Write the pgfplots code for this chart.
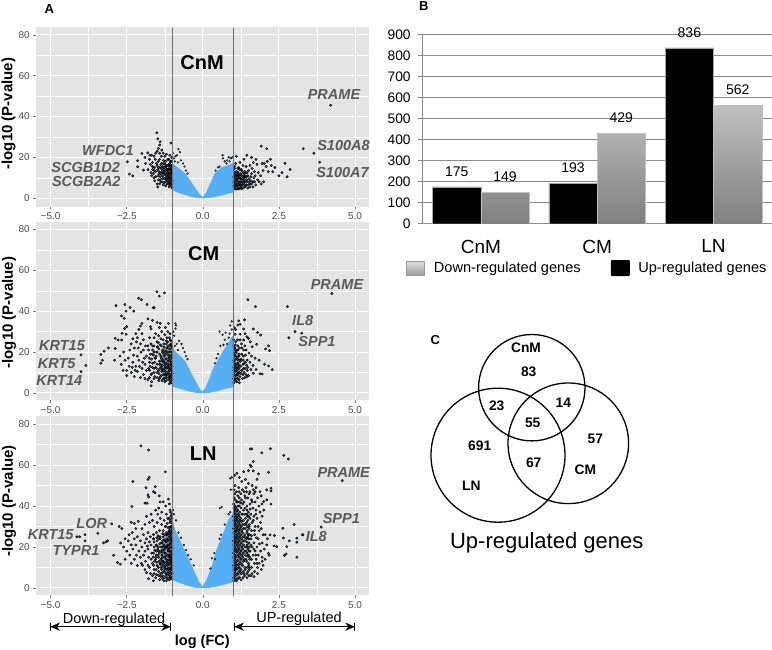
\documentclass[border=0pt]{standalone}
\usepackage{fontspec}
\setmainfont{Liberation Sans}
\usepackage{pgfplots}
\pgfplotsset{compat=1.18}

\definecolor{panel}{HTML}{E4E4E4}
\definecolor{lblue}{HTML}{56AEF5}
\definecolor{navy}{HTML}{22364E}
\definecolor{genecol}{HTML}{5A5A5A}
\definecolor{tickcol}{HTML}{4D4D4D}
\definecolor{barline}{HTML}{8A8A8A}
\definecolor{cutline}{HTML}{707070}

\pgfplotsset{
  volcano/.style={
    scale only axis, width=333.6pt, anchor=south west,
    xmin=-5.49, xmax=5.47,
    xtick={-5,-2.5,0,2.5,5},
    xticklabels={−5.0,−2.5,0.0,2.5,5.0},
    ytick={0,20,40,60,80},
    minor tick num=1, minor tick length=0pt,
    axis line style={draw=none},
    axis background/.style={fill=panel},
    grid=both,
    major grid style={white,line width=0.9pt},
    minor grid style={white,line width=0.35pt},
    tick align=outside, tick pos=lower, major tick length=2.5pt,
    tick style={tickcol!70,line width=0.5pt},
    tick label style={font=\fontsize{10}{11}\selectfont,text=tickcol},
    /pgf/number format/assume math mode=true,
  },
  dk/.style={only marks,mark=*,mark size=1.2pt,draw=none,
    mark options={draw=none,fill=navy,fill opacity=0.8}},
  lb/.style={only marks,mark=*,mark size=0.9pt,draw=none,
    mark options={draw=none,fill=lblue,fill opacity=0.85}},
  cloud/.style={fill=lblue,draw=lblue,line width=0.6pt,mark=none},
  dense/.style={fill=navy,fill opacity=0.45,draw=none,mark=none},
}

\begin{document}
\begin{tikzpicture}
\path[use as bounding box] (0pt,0pt) rectangle (772pt,-650pt);

% A: CnM
\begin{axis}[volcano, at={(35.7pt,-206.7pt)}, height=179.4pt, ymin=-4.2, ymax=83.7]
\addplot[cloud] coordinates {(-1,3.9)(-0.7,2.3)(-0.36,0.7)(-0.15,0.2)(0,0)(0.15,0.2)(0.4,0.7)(0.7,1.8)(1,3)(1,17)(0.8,15.8)(0.62,15)(0.4,12)(0.13,3)(0,0.4)(-0.14,2.3)(-0.36,7.2)(-0.58,12)(-0.8,14.5)(-1,17)};
\addplot[lb] coordinates {(-0.98,22)(-0.9,20.5)(-0.8,24)(-0.75,22.5)(-0.72,18.5)(-0.65,17)(-0.85,21)(-0.6,15.5)(-0.92,18)(-0.82,17.5)(-0.95,19.5)(-0.55,13.5)(-0.5,12)(0.65,21)(0.66,19.5)(0.85,20)(0.92,19.5)(0.8,18.5)(0.5,15)(0.72,18)(0.42,13.5)(0.97,20)(0.88,18)(0.78,17)(0.55,15.5)};
\addplot[dense] coordinates {(-1,6)(-1.2,8)(-1.25,13)(-1,16)};
\addplot[dense] coordinates {(1,5)(1.4,6)(1.4,10)(1.1,13)(1,14)};
\addplot[dk] coordinates {(-1.51,32)(-1.48,29)(-1.40,27.6)(-1.42,26)(-1.46,24.3)(-2.0,21.9)(-1.81,22.2)(-1.68,21)(-2.48,17.8)(-2.14,18.3)(-2.14,15.4)(-2.41,11.8)(-2.30,10.9)(-1.95,13.7)(-1.80,14)(-1.75,19)(-1.65,17.5)(-1.6,20.5)(-1.55,22)(-1.5,23)(-1.42,22)(-1.35,23.5)(-1.3,22)(-1.25,20.5)(-1.2,21.5)(-1.12,19)(-1.05,27)(-1.08,21)(-1.7,12.5)(-1.66,15.5)(-1.6,10)(-1.55,13)(-1.52,17)(-1.5,7)(-1.48,5.5)(-1.45,15)(-1.42,19)(-1.4,10.5)(-1.38,8)(-1.35,17)(-1.33,12.5)(-1.3,6.5)(-1.28,15)(-1.25,9.5)(-1.22,18)(-1.2,12)(-1.18,7)(-1.16,14)(-1.14,10)(-1.12,16)(-1.1,5.5)(-1.1,12)(-1.08,8)(-1.06,18)(-1.05,14)(-1.04,10)(-1.03,6)(-1.02,12.5)(-1.02,16)(-1.01,8.5)(-1.01,5)(-1.15,19)(-1.88,17)(-1.72,16.5)(-1.58,15)(-1.62,12)(-1.47,11)(-1.44,13)(-1.37,14.5)(-1.32,9.5)(-1.27,12)(-1.24,16.5)(-1.19,9)(-1.17,11.5)(-1.13,8)(-1.11,14.5)(-1.09,10)(-1.07,6.5)(-1.06,11.5)(-1.03,15)(-1.02,20)(-1.2,15.5)(-1.29,18.5)(-1.36,20.5)(-1.46,18)(-1.56,19)(-1.74,21)(-1.9,20)(-1.68,11)(-1.58,8.5)(-1.42,7)
(-1.01,7)(-1.03,9)(-1.02,11)(-1.04,13)(-1.02,14.5)(-1.05,16)(-1.03,18)(-1.07,7.5)(-1.08,10)(-1.06,12.5)(-1.09,14)(-1.07,15.5)(-1.09,17)(-1.12,6.8)(-1.13,9)(-1.11,11)(-1.14,12.5)(-1.12,14)(-1.15,16)(-1.18,8.5)(-1.17,10.5)(-1.16,12.5)(-1.19,14)(-1.18,16)(-1.22,6)(-1.23,8)(-1.21,10)(-1.24,11.5)(-1.22,13.5)(-1.25,15)(-1.28,7.5)(-1.29,10)(-1.27,13)(-1.3,14)(-1.28,17)(-1.34,8)(-1.33,11)(-1.35,13)(-1.32,15.5)(-1.4,9)(-1.38,12)(-1.41,15)(-1.38,16.5)(-1.46,9)(-1.44,12)(-1.48,14)(-1.5,16)(-1.55,10.5)(-1.6,13.5)(-1.65,14)};
\addplot[dk] coordinates {(4.2,45.5)(3.3,24.2)(3.65,22)(3.84,17.6)(1.92,25.5)(2.1,24.2)(1.1,20.5)(1.45,21)(1.6,20)(1.35,19)(1.22,17.5)(1.75,19)(2.22,19)(2.12,18)(2.7,17)(2.87,14)(2.6,12.5)(2.5,11)(2.77,10.5)(2.37,15)(2.3,13)(2.02,17)(2.08,15.5)(1.98,13.5)(1.78,16.5)(1.66,17.5)(1.55,16)(1.42,15.5)(1.32,16)(1.18,15)(1.08,17)(1.04,14.5)(1.5,13.5)(1.38,13)(1.28,13.5)(1.16,12.5)(1.06,12)(1.03,10)(1.02,7.5)(1.03,5)(1.7,13)(1.82,12.5)(1.6,12)(1.68,10)(1.85,8)(1.92,7)(1.74,6.5)(1.65,5.5)(1.55,7)(1.48,11)(1.44,9)(1.4,6)(1.34,11)(1.3,8)(1.26,5.5)(1.22,10)(1.2,7)(1.14,9.5)(1.12,6)(1.1,11)(1.08,8)(1.06,5.5)(1.04,11.5)(1.05,7)(1.18,4.5)(1.25,12)(1.36,10)(1.45,12.5)(1.52,9.5)(1.58,8.5)(1.62,14.5)(1.72,11)(1.8,9)(2.0,8)(1.9,11)(2.15,13)(1.95,17)(2.25,16)
(1.02,6)(1.03,8.5)(1.02,10.5)(1.04,12.5)(1.05,15.5)(1.07,4.5)(1.08,6.5)(1.09,9.5)(1.07,11)(1.1,13)(1.12,4.5)(1.13,7)(1.12,8.5)(1.14,10.5)(1.13,12.5)(1.15,14.5)(1.17,5)(1.18,6.5)(1.19,8)(1.18,10)(1.17,11.5)(1.2,14)(1.23,5)(1.24,6.5)(1.25,8)(1.24,9.5)(1.22,11.5)(1.26,14)(1.28,4.5)(1.29,6.5)(1.3,9.5)(1.28,11)(1.33,5)(1.34,7)(1.35,8.5)(1.33,12.5)(1.38,5.5)(1.39,8)(1.4,10.5)(1.38,12)(1.43,6.5)(1.45,8)(1.44,10.5)(1.48,5)(1.5,6.5)(1.52,8)(1.55,5.5)(1.58,10.5)(1.6,7)(1.65,8)(1.7,8)};
\end{axis}

% CM
\begin{axis}[volcano, at={(35.7pt,-400.3pt)}, height=178.3pt, ymin=-3.6, ymax=83.6]
\addplot[cloud] coordinates {(-1,3.2)(-0.75,2.2)(-0.45,0.9)(-0.2,0.2)(0,0)(0.2,0.2)(0.46,1)(0.75,2.2)(1,3)(1,28)(0.85,24.5)(0.68,20.5)(0.35,12)(0.12,3)(0,0.5)(-0.09,1.5)(-0.3,7.2)(-0.58,15.3)(-0.75,18)(-0.9,20)(-1,22)};
\addplot[lb] coordinates {(-0.97,30)(-0.9,31.5)(-0.88,33)(-0.9,34)(-0.94,28)(-0.86,24)(-0.78,25.5)(-0.7,24)(-0.65,22)(-0.6,20)(-0.55,18)(-0.5,16.5)(-0.82,21)(-0.92,23)(0.9,33)(0.95,31)(0.55,30)(0.65,28.5)(0.75,29.5)(0.85,27)(0.95,35)(0.58,23)(0.68,23.5)(0.72,26)(0.45,17)(0.5,19)(0.4,14.5)(0.8,24)(0.88,29)};
\addplot[dense] coordinates {(-1,6)(-1.3,8)(-1.45,14)(-1.3,22)(-1,24)};
\addplot[dense] coordinates {(1,6)(1.2,7)(1.25,14)(1.1,22)(1,25)};
\addplot[dk] coordinates {(-1.51,49.5)(-1.26,48.9)(-1.43,47.4)(-2.11,46.3)(-2.02,45.6)(-2.85,42.7)(-2.56,43.3)(-2.39,41.8)(-2.52,40)(-2.27,40)(-1.83,43.3)(-1.63,41.7)(-1.6,41.7)(-2.67,37.7)(-2.58,36.5)(-1.8,36.2)(-1.65,35.5)(-1.5,34.5)(-1.4,34)(-2.0,34)(-2.05,32.7)(-2.5,32.4)(-2.57,31.5)(-1.72,32.4)(-1.7,31.3)(-1.43,32)(-1.23,32)(-1.13,34)(-2.65,29.2)(-2.52,28.7)(-2.88,26.7)(-2.78,25.9)(-2.67,25.9)(-3.1,22)(-2.88,21.7)(-3.24,20.4)(-3.35,18.8)(-3.3,16)(-3.35,14.5)(-2.9,16)(-2.68,14)(-2.62,11)(-2.5,8.5)(-1.7,3.5)(-2.5,11)(-2.45,17)(-2.55,16)(-2.4,21)(-2.35,24)(-2.3,26.5)(-2.2,29)(-2.15,27)(-2.1,31)(-2.0,29)(-1.95,26)(-2.25,22)(-2.15,18)(-2.05,24)(-1.95,21)(-2.3,15)(-2.2,13)(-2.1,16)(-2.0,12)(-2.35,10)(-2.25,8)(-2.15,10.5)(-2.05,7.5)(-1.95,9)(-1.9,14)(-1.85,18)(-1.8,23)(-1.75,27)(-1.7,24)(-1.65,21)(-1.6,27)(-1.55,29)(-1.5,25)(-1.45,28)(-1.4,23.5)(-1.35,30)(-1.3,26)(-1.25,28.5)(-1.2,24)(-1.15,30)(-1.1,27)(-1.05,25.5)(-1.85,11)(-1.8,6.5)(-1.75,15)(-1.7,9)(-1.65,12.5)(-1.6,7)(-1.55,17)(-1.5,10)(-1.5,20)(-1.45,6)(-1.42,14)(-1.38,18)(-1.35,10.5)(-1.32,21)(-1.3,7)(-1.28,15)(-1.25,12)(-1.22,19)(-1.2,9)(-1.18,22)(-1.15,14)(-1.12,6.5)(-1.12,17)(-1.1,11)(-1.08,20)(-1.06,8)(-1.05,14)(-1.04,23)(-1.03,5)(-1.02,17)(-1.02,10.5)(-1.58,15)(-1.62,18.5)(-1.68,5.5)(-1.72,19)(-1.78,12)(-1.88,23)(-1.92,17)(-1.98,15)(-2.03,20)(-2.08,13)(-2.12,22)(-2.18,25)(-2.22,11)(-2.28,18.5)(-2.32,12.5)(-2.42,13)(-2.6,20)(-2.72,18)(-1.48,22.5)(-1.38,26.5)(-1.28,24)(-1.18,27)(-1.08,29)(-1.55,12.5)(-1.45,11)(-1.34,13.5)(-1.24,9)(-1.14,10)(-1.4,8)(-1.6,10)(-1.75,7.5)(-1.9,7)(-1.25,5.5)(-1.1,4.5)
(-1.01,6.5)(-1.03,8)(-1.01,9.5)(-1.03,11.5)(-1.01,13)(-1.04,15)(-1.02,18.5)(-1.03,20)(-1.01,22)(-1.04,24)(-1.07,5.5)(-1.09,7)(-1.08,9)(-1.07,12)(-1.09,13.5)(-1.08,16)(-1.07,18)(-1.09,21.5)(-1.08,23.5)(-1.07,26)(-1.13,7.5)(-1.15,9)(-1.13,12)(-1.16,13)(-1.14,15.5)(-1.13,18.5)(-1.16,20)(-1.14,23)(-1.15,25)(-1.2,6)(-1.21,7.5)(-1.22,10.5)(-1.2,12.5)(-1.22,14.5)(-1.21,16.5)(-1.23,20.5)(-1.2,25.5)(-1.27,7)(-1.28,9)(-1.29,11)(-1.26,13.5)(-1.3,16)(-1.27,18)(-1.29,19.5)(-1.27,22.5)(-1.34,6)(-1.36,8.5)(-1.33,11.5)(-1.37,12.5)(-1.34,15.5)(-1.36,17)(-1.33,20)(-1.36,23)(-1.42,7)(-1.44,9.5)(-1.41,12)(-1.43,15.5)(-1.42,19)(-1.44,21.5)(-1.46,24.5)(-1.5,7.5)(-1.52,12)(-1.5,14)(-1.53,18)(-1.52,20)(-1.5,22.5)(-1.58,8)(-1.6,12)(-1.57,17)(-1.6,20)(-1.6,23)(-1.67,9.5)(-1.65,14.5)(-1.68,16.5)(-1.66,19)(-1.65,23)(-1.75,11)(-1.73,13)(-1.76,17)(-1.78,21)};
\addplot[dk] coordinates {(4.24,48.6)(2.78,42.2)(3.03,30)(3.25,29.2)(2.83,27)(-4.0,18.6)(-3.84,13.4)(-4,10.4)(1.48,45.6)(1.73,42.2)(1.18,35.3)(1.37,35.7)(1.15,33.2)(1.23,33.6)(1.04,31.9)(1.08,31)(1.66,31.3)(1.8,29.6)(1.9,28.3)(1.34,31.3)(1.39,29)(1.23,28.7)(1.06,28.7)(1.45,27.5)(1.5,26.7)(1.23,25.9)(1.34,25.9)(1.56,25)(1.77,23.8)(1.62,22.6)(2.16,23)(2.06,21.5)(2.19,20.7)(2.03,14)(2.16,13.2)(2.28,11.4)(1.88,9.4)(1.66,9.6)(1.95,9.3)(1.08,25)(1.15,23)(1.05,22)(1.28,22)(1.42,21)(1.52,19.5)(1.6,18)(1.72,17)(1.1,20)(1.2,19)(1.33,18)(1.46,16)(1.55,15)(1.65,13.5)(1.75,11.5)(1.04,18)(1.14,16.5)(1.24,15.5)(1.36,14.5)(1.48,12.5)(1.58,11.5)(1.42,9)(1.5,8.5)(1.03,15)(1.1,13.5)(1.18,12)(1.28,11)(1.36,10)(1.06,10.5)(1.14,9)(1.22,8)(1.3,7)(1.38,7.5)(1.05,7)(1.12,5.5)(1.2,5)(1.02,5)(1.02,12.5)(1.85,16)(1.4,18.5)(1.25,13)(1.12,11)(1.32,14)(1.46,11)
(1.01,7)(1.03,9)(1.02,11)(1.04,13)(1.02,16)(1.03,19.5)(1.02,23)(1.01,26)(1.07,6)(1.08,8.5)(1.06,12)(1.07,14)(1.08,16.5)(1.06,18.5)(1.08,21)(1.07,23.5)(1.13,7)(1.14,9.5)(1.12,12.5)(1.15,14.5)(1.13,17.5)(1.15,21)(1.14,26)(1.19,6.5)(1.2,10)(1.18,13.5)(1.21,16)(1.19,18)(1.2,22)(1.25,9.5)(1.27,11)(1.26,16.5)(1.28,19)(1.27,24)(1.32,9)(1.34,12)(1.33,16)(1.34,21)(1.39,12)(1.4,15)(1.38,23)(1.45,8)(1.44,13.5)};
\end{axis}

% LN
\begin{axis}[volcano, at={(35.7pt,-595.3pt)}, height=179.3pt, ymin=-3.6, ymax=84]
\addplot[cloud] coordinates {(-1,3.9)(-0.55,1.5)(-0.25,0.3)(0,0)(0.2,0.2)(0.5,1)(0.75,2)(1,3)(1,36.5)(0.84,33)(0.68,26.7)(0.46,18.6)(0.3,10.4)(0.13,3.9)(0,0.5)(-0.14,3)(-0.31,8.8)(-0.53,16)(-0.74,22.6)(-0.91,28)(-1,33)};
\addplot[lb] coordinates {(-0.98,38)(-0.95,36)(-0.88,33)(-0.8,27)(-0.72,24.5)(-0.62,21)(-0.55,18.5)(-0.48,16)(-0.3,11)(-0.4,14)(0.95,54)(0.92,48)(0.9,53.5)(0.56,39)(0.62,39.5)(0.85,36)(0.9,37)(0.38,17)(0.4,14)(0.3,14.5)(0.55,24)(0.6,26)(0.25,9.5)(0.72,31)};
\addplot[dense] coordinates {(-1,5)(-1.2,6)(-1.4,12)(-1.35,22)(-1.15,28)(-1,32)};
\addplot[dense] coordinates {(1,4)(1.25,5)(1.35,15)(1.3,32)(1.12,40)(1,42)};
\addplot[dk] coordinates {(-2.03,69.4)(-1.78,67.4)(-1.23,56.7)(-2.3,52)(-1.76,54)(-1.8,53)(-1.56,49.5)(-1.87,49)(-1.62,47)(-1.57,46.5)(-1.8,45.5)(-1.78,44.4)(-1.43,45)(-1.13,43.4)(-1.4,42)(-1.9,41.4)(-1.83,41.4)(-2.33,39.8)(-4.14,25)(-4.05,25)(-3.87,26)(-3.87,23)(-3.45,26.7)(-2.99,31.3)(-2.75,30)(-2.66,29)(-3.26,22)(-3.18,22.5)(-3.13,23)(-2.93,16)(-2.8,12.4)(-2.71,11.6)(-1.3,42)(-1.22,40)(-1.1,41)(-1.45,39)(-1.55,38)(-1.7,36)(-1.85,35)(-1.65,33)(-1.48,36)(-1.35,37)(-1.2,36)(-1.08,38)(-1.4,34)(-1.27,33)(-1.15,34)(-1.05,35)(-2.35,32)(-2.25,31.5)(-2.12,32.5)(-2.2,29)(-2.0,29)(-1.9,31)(-1.8,27)(-1.75,32)(-1.6,30)(-1.5,32)(-1.35,31)(-1.22,30)(-1.08,32)(-2.55,24)(-2.45,23)(-2.7,22)(-2.6,20)(-2.35,21)(-2.25,24)(-2.15,25)(-2.05,23)(-1.95,26)(-1.85,24)(-1.72,25)(-1.62,26)(-1.52,27)(-1.42,28)(-1.3,28)(-1.2,27)(-1.1,28)(-2.5,18)(-2.4,16)(-2.3,19)(-2.2,21)(-2.1,18)(-2,20)(-1.9,22)(-1.8,19)(-1.7,21)(-1.6,22.5)(-1.5,23)(-1.4,24)(-1.3,25)(-1.18,24)(-2.55,14)(-2.35,12)(-2.25,14)(-2.15,11)(-2.05,15)(-1.95,16)(-1.88,13)(-1.78,15)(-1.68,17)(-1.58,18.5)(-1.48,19)(-1.38,20)(-1.28,21)(-1.15,21)(-1.9,9)(-1.8,11)(-1.72,7)(-1.65,12)(-1.6,9)(-1.55,14)(-1.45,15)(-1.35,16)(-1.25,17)(-1.1,18)(-1.78,4.5)(-1.65,6)(-1.55,5)(-1.5,11)(-1.4,12)(-1.3,13)(-1.2,14)(-1.1,15)(-1.45,8)(-1.35,9)(-1.25,10)(-1.15,11)(-1.05,12)(-1.42,4)(-1.32,6)(-1.22,7)(-1.12,8)(-1.05,9)(-1.62,3.5)(-1.28,3.5)(-1.18,4.5)(-1.08,5)(-1.02,20)(-1.05,24)(-1.02,27)(-1.02,30)(-1.04,15)(-1.9,18)(-2.02,12)(-2.18,16)(-2.42,26)(-2.32,27)(-1.98,11)(-1.82,20.5)(-1.7,14)(-1.33,18.5)(-1.23,19.5)(-1.13,19)(-1.43,17)(-1.53,16)(-1.63,15)(-1.75,10)(-1.85,7.5)(-1.52,20.5)(-1.42,21.5)(-1.32,23)(-1.22,22.5)(-1.12,23.5)(-1.62,24)(-1.75,22.5)
(-1.02,4.5)(-1.01,7)(-1.03,9)(-1.01,11)(-1.02,13)(-1.03,14.5)(-1.01,16.5)(-1.03,18)(-1.01,19.5)(-1.03,21.5)(-1.01,23)(-1.02,25)(-1.03,26.5)(-1.01,28.5)(-1.03,32)(-1.01,34)(-1.02,36)(-1.06,5.5)(-1.07,7.5)(-1.05,10)(-1.07,12.5)(-1.06,14)(-1.05,16)(-1.07,17.5)(-1.06,20)(-1.07,22)(-1.05,23.5)(-1.06,26)(-1.07,27.5)(-1.05,30)(-1.07,33)(-1.06,37)(-1.1,4)(-1.11,6.5)(-1.09,9.5)(-1.11,11.5)(-1.1,13.5)(-1.12,16)(-1.09,19.5)(-1.11,21)(-1.1,25)(-1.12,27)(-1.09,29.5)(-1.11,34)(-1.15,5)(-1.16,7)(-1.14,9.5)(-1.17,12.5)(-1.15,13.5)(-1.16,16)(-1.14,18)(-1.17,20)(-1.15,23)(-1.16,26)(-1.14,29.5)(-1.17,31.5)(-1.2,3.5)(-1.21,6)(-1.19,9)(-1.22,11)(-1.2,12.5)(-1.21,15.5)(-1.23,17)(-1.19,20.5)(-1.22,23)(-1.2,26)(-1.23,30)(-1.26,5)(-1.27,8)(-1.25,9.5)(-1.28,12)(-1.26,15)(-1.27,18.5)(-1.25,20)(-1.28,23.5)(-1.26,26)(-1.32,4.5)(-1.33,7.5)(-1.31,11)(-1.34,13)(-1.32,15)(-1.33,17.5)(-1.31,20)(-1.34,22)(-1.32,26.5)(-1.38,5.5)(-1.39,7)(-1.37,10)(-1.4,11.5)(-1.38,14)(-1.39,18)(-1.37,22)(-1.4,25)(-1.45,6)(-1.46,10)(-1.44,13)(-1.47,16)(-1.45,18)(-1.46,20)(-1.44,24)(-1.47,25.5)(-1.52,6.5)(-1.53,9)(-1.51,12.5)(-1.54,15)(-1.52,18)(-1.53,21)(-1.51,24.5)(-1.6,7)(-1.61,11)(-1.59,13)(-1.62,17)(-1.6,20)(-1.61,24)};
\addplot[dk] coordinates {(4.58,52.4)(3.89,29.7)(3.29,25.9)(3.09,24.3)(3.0,31)(1.56,67.9)(1.61,67.9)(1.94,66)(2.22,68)(2.66,64.8)(2.81,63)(1.66,61.7)(1.56,60)(1.59,59.3)(2.16,56.5)(1.12,56)(1.34,56.8)(1.5,57.3)(1.66,57.2)(1.83,55.7)(2.24,48.7)(2.24,47.4)(2.1,47.9)(2.24,41)(2.1,43)(2,42.2)(1.94,41)(2.63,29.2)(3.27,26)(3.09,22.3)(2.84,23)(2.65,24.4)(2.76,20.2)(2.43,20.2)(2.68,15.8)(2.74,16.6)(3.09,15)(2.35,25.6)(2.21,25.9)(2.05,26)(2.34,20.5)(2.16,16.9)(2.18,16)(1.05,55)(1.2,54)(1.28,52)(1.4,53)(1.5,51)(1.62,50)(1.75,49)(1.88,47)(1.06,50)(1.18,49)(1.3,48)(1.42,49)(1.55,47)(1.68,46)(1.8,44)(1.92,45)(1.05,46)(1.15,45)(1.25,46)(1.38,45)(1.48,44)(1.6,43)(1.72,42)(1.84,40)(2.0,38)(1.95,35)(1.88,37)(1.75,38)(1.65,39)(1.55,41)(1.45,40)(1.35,42)(1.25,41.5)(1.58,36)(1.68,35)(1.78,34)(1.9,32)(1.5,37)(1.62,32)(1.72,30)(1.85,28)(1.98,26)(1.55,34)(1.45,36)(1.52,30)(1.6,28)(1.7,26)(1.82,24)(1.95,22)(2.1,21)(1.48,33)(1.42,31)(1.5,26)(1.58,24)(1.68,22)(1.78,20)(1.9,18)(2.02,19)(1.46,28)(1.44,24)(1.52,22)(1.62,20)(1.72,18)(1.82,16)(1.95,15)(2.05,14)(1.45,20)(1.55,18)(1.65,16)(1.75,14)(1.85,12)(1.98,11)(1.42,18)(1.5,16)(1.6,14)(1.7,12)(1.8,10)(1.92,9)(1.42,14)(1.5,12)(1.6,10)(1.7,8)(1.8,7)(1.38,10)(1.48,8)(1.58,6)(1.68,5.5)(1.35,7)(1.45,5)(1.66,48)(1.72,47)(1.78,53)(1.44,47)(1.2,44)(1.36,47)(1.52,46)(1.62,42)(1.4,44)(1.74,36)(1.56,38.5)(1.66,33)(1.82,30)(1.92,29)(1.76,24.5)(1.86,21.5)(1.7,28)(1.6,25.5)(2.12,24)(1.95,13)(1.78,12)(1.62,7)(1.52,10)(1.74,16)(1.58,21)(1.68,19)(1.48,19)(1.54,15)
(1.02,3.5)(1.01,5)(1.03,7)(1.02,9)(1.01,11)(1.03,13)(1.02,15)(1.01,17)(1.03,19)(1.02,21)(1.01,23)(1.03,25)(1.02,27)(1.01,29)(1.03,31)(1.02,33)(1.01,35)(1.03,37)(1.02,39)(1.01,41)(1.03,44)(1.02,48)(1.06,4.5)(1.07,6)(1.05,8)(1.06,10)(1.07,12)(1.05,14)(1.06,16)(1.07,18)(1.05,20)(1.06,22)(1.07,24)(1.05,26)(1.06,28)(1.07,30)(1.05,32)(1.06,34)(1.07,36)(1.05,38)(1.06,40)(1.07,43)(1.1,3.5)(1.11,6.5)(1.09,9)(1.1,11)(1.12,13)(1.09,15)(1.11,17.5)(1.1,19)(1.12,21)(1.09,23)(1.11,25)(1.1,27.5)(1.12,29)(1.09,31)(1.11,33)(1.1,35)(1.12,37.5)(1.09,39)(1.11,42)(1.1,47)(1.15,4.5)(1.16,7)(1.14,9.5)(1.17,11.5)(1.15,13.5)(1.16,16)(1.14,18)(1.17,20)(1.15,22)(1.16,24)(1.14,26)(1.17,28)(1.15,30)(1.16,32)(1.14,34)(1.17,36)(1.15,38)(1.16,40)(1.14,42)(1.2,5)(1.21,8)(1.19,10)(1.22,12.5)(1.2,15)(1.21,17)(1.19,19)(1.22,21)(1.2,23)(1.21,25)(1.19,27)(1.22,29)(1.2,31)(1.21,33)(1.19,35)(1.22,37)(1.2,40)(1.21,42)(1.19,47)(1.26,4)(1.27,7)(1.25,9)(1.28,11.5)(1.26,14)(1.27,16)(1.25,18)(1.28,20)(1.26,22)(1.27,24)(1.25,26)(1.28,28)(1.26,30)(1.27,32.5)(1.25,34)(1.28,36)(1.26,39)(1.27,43)(1.32,5)(1.33,8)(1.31,11)(1.34,13)(1.32,15)(1.33,17)(1.31,19)(1.34,21)(1.32,23)(1.33,25)(1.31,27)(1.34,29)(1.32,31)(1.33,33)(1.31,36)(1.34,38)(1.32,41)(1.38,6)(1.39,9)(1.37,14)(1.4,16)(1.38,18)(1.39,20)(1.37,23)(1.4,24.5)(1.38,26)(1.39,29)(1.37,31)(1.4,34)(1.38,36)(1.39,39)(1.45,7)(1.46,10)(1.44,13)(1.47,15.5)(1.45,17)(1.46,21)(1.44,22.5)(1.47,25)(1.45,27)(1.46,30)(1.44,32)(1.47,35)(1.45,38)(1.52,6)(1.53,9)(1.51,11)(1.54,14)(1.52,18)(1.53,20)(1.51,24)(1.54,26)(1.52,29)(1.53,31)(1.51,35)};
\end{axis}

% B
\begin{axis}[
  scale only axis, at={(422.7pt,-223.7pt)}, anchor=south west,
  width=349pt, height=189.4pt,
  xmin=-0.5, xmax=2.5, ymin=0, ymax=900,
  ybar=0pt, bar width=48.3pt,
  axis x line*=bottom, axis y line*=left,
  axis line style={barline,line width=0.9pt},
  xtick={0,1,2}, xticklabels={CnM,CM,LN},
  x tick style={draw=none},
  x tick label style={font=\fontsize{19}{20}\selectfont,yshift=-8pt},
  extra x ticks={-0.5,0.5,1.5,2.5}, extra x tick labels={},
  extra x tick style={tick style={draw=barline,line width=0.9pt},tickwidth=5pt,grid=none},
  ytick={0,100,...,900},
  ymajorgrids,
  major grid style={barline,line width=0.9pt},
  y tick style={barline,line width=0.9pt},
  tick align=outside, major tick length=4.5pt,
  y tick label style={font=\fontsize{13.8}{14}\selectfont,xshift=-4pt},
  /pgf/number format/assume math mode=true,
  nodes near coords,
  every node near coord/.append style={font=\fontsize{14}{15}\selectfont,yshift=7pt},
  legend columns=2, reverse legend,
  legend style={at={(axis description cs:-0.047,-0.234)},anchor=west,draw=none,fill=none,
    inner sep=0pt,font=\fontsize{14.6}{15}\selectfont,
    /tikz/column 2/.style={column sep=28pt}},
]
\addplot[draw=gray!70,fill=black,
  legend image code/.code={\fill[black,draw=none,rounded corners=1pt] (0pt,-8pt) rectangle (19pt,8pt);\path[draw=none,fill=none] (0pt,0pt)--(25.5pt,0pt);}]
  coordinates {(0,175)(1,193)(2,836)};
\addlegendentry{Up-regulated genes}
\addplot[draw=gray!50,top color=black!25,bottom color=black!50,
  legend image code/.code={\draw[gray!80,line width=0.8pt,top color=black!13,bottom color=black!38] (0pt,-7pt) rectangle (17pt,7pt);\path[draw=none,fill=none,shade=none] (0pt,0pt)--(25pt,0pt);}]
  coordinates {(0,149)(1,429)(2,562)};
\addlegendentry{Down-regulated genes}
\end{axis}

\begin{scope}[x=1pt,y=-1pt]
% cut-off lines through all three panels
\draw[cutline,line width=1.3pt] (172.3,28)--(172.3,596);
\draw[cutline,line width=1.3pt] (233.3,28)--(233.3,596);

\tikzset{gene/.style={font=\bfseries\itshape\fontsize{14.5}{15}\selectfont,text=genecol,inner sep=0pt},
  ttl/.style={font=\bfseries\fontsize{20}{21}\selectfont,inner sep=0pt},
  vn/.style={font=\bfseries\fontsize{13.8}{14}\selectfont,inner sep=0pt},
  tag/.style={font=\bfseries\fontsize{13}{14}\selectfont,inner sep=0pt},
  ylab/.style={font=\bfseries\fontsize{15}{16}\selectfont,rotate=90,inner sep=0pt}}

\node[tag] at (49.3,9.3) {A};
\node[tag] at (423.7,6.5) {B};
\node[tag] at (435.3,340) {C};

\node[ylab] at (8.5,113.5) {-log10 (P-value)};
\node[ylab] at (9,312.5) {-log10 (P-value)};
\node[ylab] at (9,501) {-log10 (P-value)};

\node[ttl] at (202,62.7) {CnM};
\node[ttl] at (203.7,254) {CM};
\node[ttl] at (203.3,453.3) {LN};

\node[gene] at (334,95) {PRAME};
\node[gene] at (343.5,146) {S100A8};
\node[gene] at (342.5,172.7) {S100A7};
\node[gene] at (108,151) {WFDC1};
\node[gene] at (85.7,168) {SCGB1D2};
\node[gene] at (86.3,182) {SCGB2A2};

\node[gene] at (337,284.3) {PRAME};
\node[gene] at (302.7,321) {IL8};
\node[gene] at (317,341.7) {SPP1};
\node[gene] at (62,346) {KRT15};
\node[gene] at (56.7,364) {KRT5};
\node[gene] at (59.3,380.7) {KRT14};

\node[gene] at (343.7,472.7) {PRAME};
\node[gene] at (341.3,518.7) {SPP1};
\node[gene] at (316.3,536.7) {IL8};
\node[gene] at (91.7,524) {LOR};
\node[gene] at (50.7,535) {KRT15};
\node[gene] at (76,551) {TYPR1};

% arrows under the LN panel
\draw[line width=1pt,|-|] (50,626.7)--(171.3,626.7);
\draw[line width=1pt,|-|] (234,626.7)--(355.3,626.7);
\fill (50.5,626.7)--(60,622.5)--(57,626.7)--(60,630.9)--cycle;
\fill (170.8,626.7)--(161.3,622.5)--(164.3,626.7)--(161.3,630.9)--cycle;
\fill (234.5,626.7)--(244,622.5)--(241,626.7)--(244,630.9)--cycle;
\fill (354.8,626.7)--(345.3,622.5)--(348.3,626.7)--(345.3,630.9)--cycle;
\node[font=\fontsize{14.5}{15}\selectfont,inner sep=0pt] at (114,619.3) {Down-regulated};
\node[font=\fontsize{14.5}{15}\selectfont,inner sep=0pt] at (299,618.7) {UP-regulated};
\node[font=\bfseries\fontsize{14.5}{15}\selectfont,inner sep=0pt] at (202.3,641.7) {log (FC)};

% C: Venn
\draw[line width=1.3pt] (531.8,387.7) circle[radius=53.2pt];
\draw[line width=1.3pt] (498,455.2) circle[radius=67pt];
\draw[line width=1.3pt] (568.3,443.3) circle[radius=60.3pt];
\node[vn] at (526,347.3) {CnM};
\node[vn] at (528.7,371.7) {83};
\node[vn] at (496.7,405.3) {23};
\node[vn] at (563.3,402.7) {14};
\node[vn] at (532.7,423.3) {55};
\node[vn] at (479.7,445.3) {691};
\node[vn] at (595.3,439) {57};
\node[vn] at (533.7,463) {67};
\node[vn] at (585.3,469.7) {CM};
\node[vn] at (471.3,485.7) {LN};
\node[font=\fontsize{22}{23}\selectfont,inner sep=0pt] at (546.7,542.7) {Up-regulated genes};
\end{scope}
\end{tikzpicture}
\end{document}
